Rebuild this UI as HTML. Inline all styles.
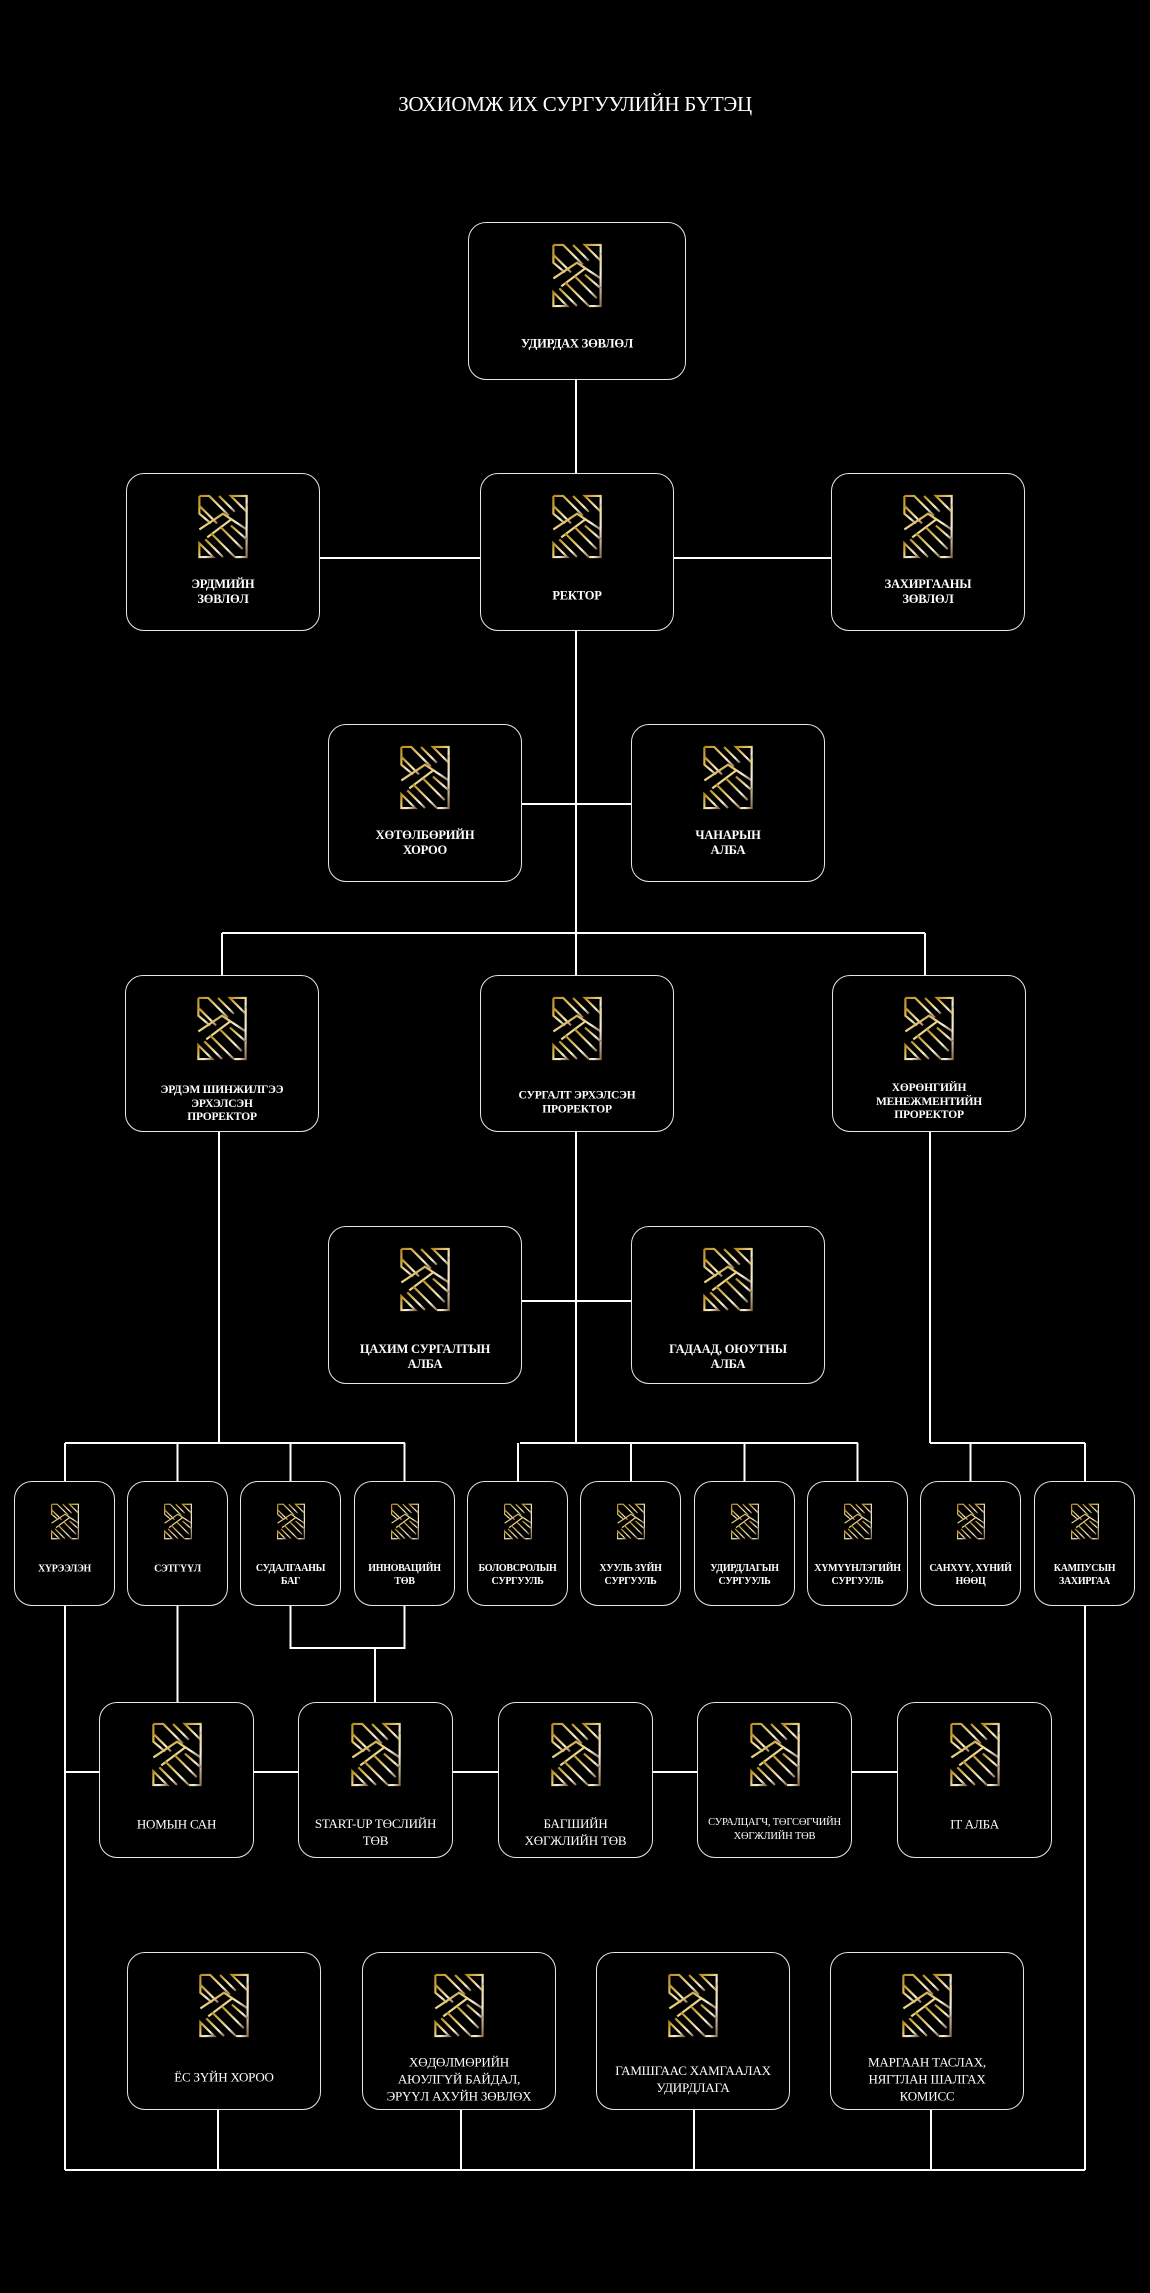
<!DOCTYPE html>
<html><head><meta charset="utf-8">
<style>
html,body{margin:0;padding:0;background:#000;}
body{width:1150px;height:2293px;position:relative;overflow:hidden;font-family:"Liberation Serif","Noto Serif CJK SC",serif;color:#fff;}
.t{position:absolute;left:0;width:1150px;text-align:center;top:92px;font-size:21px;letter-spacing:-0.3px;}
.b{position:absolute;border:1.3px solid #e6e6e6;border-radius:18px;box-sizing:border-box;background:#000;}
.b svg{position:absolute;left:50%;transform:translateX(-50%);}
.l{position:absolute;left:0;right:0;text-align:center;transform:translateY(-50%);font-weight:bold;font-size:12.5px;line-height:15px;letter-spacing:-0.2px;}
.s .l{font-size:10px;line-height:13px;letter-spacing:-0.3px;}
.m .l{font-size:13px;line-height:17px;font-weight:normal;}
</style></head><body>
<svg width="0" height="0" style="position:absolute">
<defs>
<linearGradient id="g" x1="0" y1="0" x2="1" y2="1">
<stop offset="0" stop-color="#b88c1e"/><stop offset="0.45" stop-color="#e8cf7a"/><stop offset="0.7" stop-color="#f6f0dc"/><stop offset="1" stop-color="#8c6e48"/>
</linearGradient>
<symbol id="ic" viewBox="0 0 52 66">
<g fill="none" stroke="url(#g)" stroke-width="2.2">
<path d="M2 2H12L32 22"/>
<path d="M2 2V20L14 30"/>
<path d="M2 12L20 30"/>
<path d="M22 2L38 18"/>
<path d="M34 2H50V18Z"/>
<path d="M2 36L26 20L50 36"/>
<path d="M2 36V42"/>
<path d="M50 12V64H38"/>
<path d="M10 44L34 26"/>
<path d="M14 40L38 64"/>
<path d="M24 34L46 56"/>
<path d="M34 32L50 46"/>
<path d="M2 50V64H16Z"/>
<path d="M26 64L8 46"/>
</g>
</symbol>
</defs>
</svg>

<div class="t">ЗОХИОМЖ ИХ СУРГУУЛИЙН БҮТЭЦ</div>

<svg style="position:absolute;left:0;top:0" width="1150" height="2293">
<g stroke="#fff" stroke-width="2" fill="none">
<path d="M576 380V975"/>
<path d="M320 558H831"/>
<path d="M522 804H631"/>
<path d="M222 933H925M222 933V975M925 933V975"/>
<path d="M219 1132V1443M576 1132V1443M930 1132V1443"/>
<path d="M522 1301H631"/>
<path d="M65 1443H405M520 1443H858M930 1443H1085"/>
<path d="M65 1443V2170M177.5 1443V1481M290.5 1443V1481M404.5 1443V1481M518 1443V1481M631 1443V1481M744.5 1443V1481M857.5 1443V1481M970.5 1443V1481M1085 1443V2170"/>
<path d="M177.5 1606V1702"/>
<path d="M290.5 1606V1648H404.5V1606M375 1648V1702"/>
<path d="M65 1772H897"/>
<path d="M65 2170H1085"/>
<path d="M218 2110V2170M461 2110V2170M694 2110V2170M931 2110V2170"/>
</g>
</svg>

<!-- top -->
<div class="b" style="left:468px;top:222px;width:218px;height:158px"><svg width="52" height="65" style="top:20px"><use href="#ic"/></svg><div class="l" style="top:121px">УДИРДАХ ЗӨВЛӨЛ</div></div>
<!-- row2 -->
<div class="b" style="left:126px;top:473px;width:194px;height:158px"><svg width="52" height="65" style="top:20px"><use href="#ic"/></svg><div class="l" style="top:118px">ЭРДМИЙН<br>ЗӨВЛӨЛ</div></div>
<div class="b" style="left:480px;top:473px;width:194px;height:158px"><svg width="52" height="65" style="top:20px"><use href="#ic"/></svg><div class="l" style="top:122px">РЕКТОР</div></div>
<div class="b" style="left:831px;top:473px;width:194px;height:158px"><svg width="52" height="65" style="top:20px"><use href="#ic"/></svg><div class="l" style="top:118px">ЗАХИРГААНЫ<br>ЗӨВЛӨЛ</div></div>
<!-- row3 -->
<div class="b" style="left:328px;top:724px;width:194px;height:158px"><svg width="52" height="65" style="top:20px"><use href="#ic"/></svg><div class="l" style="top:118px">ХӨТӨЛБӨРИЙН<br>ХОРОО</div></div>
<div class="b" style="left:631px;top:724px;width:194px;height:158px"><svg width="52" height="65" style="top:20px"><use href="#ic"/></svg><div class="l" style="top:118px">ЧАНАРЫН<br>АЛБА</div></div>
<!-- row4 -->
<div class="b" style="left:125px;top:975px;width:194px;height:157px"><svg width="52" height="65" style="top:20px"><use href="#ic"/></svg><div class="l" style="top:128px;font-size:11.5px;line-height:13.5px">ЭРДЭМ ШИНЖИЛГЭЭ<br>ЭРХЭЛСЭН<br>ПРОРЕКТОР</div></div>
<div class="b" style="left:480px;top:975px;width:194px;height:157px"><svg width="52" height="65" style="top:20px"><use href="#ic"/></svg><div class="l" style="top:127px;font-size:11.5px;line-height:13.5px">СУРГАЛТ ЭРХЭЛСЭН<br>ПРОРЕКТОР</div></div>
<div class="b" style="left:832px;top:975px;width:194px;height:157px"><svg width="52" height="65" style="top:20px"><use href="#ic"/></svg><div class="l" style="top:126px;font-size:11.5px;line-height:13.5px">ХӨРӨНГИЙН<br>МЕНЕЖМЕНТИЙН<br>ПРОРЕКТОР</div></div>
<!-- row5 -->
<div class="b" style="left:328px;top:1226px;width:194px;height:158px"><svg width="52" height="65" style="top:20px"><use href="#ic"/></svg><div class="l" style="top:130px">ЦАХИМ СУРГАЛТЫН<br>АЛБА</div></div>
<div class="b" style="left:631px;top:1226px;width:194px;height:158px"><svg width="52" height="65" style="top:20px"><use href="#ic"/></svg><div class="l" style="top:130px">ГАДААД, ОЮУТНЫ<br>АЛБА</div></div>
<!-- row6 small -->
<div class="b s" style="left:14px;top:1481px;width:101px;height:125px"><svg width="29" height="37" style="top:21px"><use href="#ic"/></svg><div class="l" style="top:87px">ХҮРЭЭЛЭН</div></div>
<div class="b s" style="left:127px;top:1481px;width:101px;height:125px"><svg width="29" height="37" style="top:21px"><use href="#ic"/></svg><div class="l" style="top:87px">СЭТГҮҮЛ</div></div>
<div class="b s" style="left:240px;top:1481px;width:101px;height:125px"><svg width="29" height="37" style="top:21px"><use href="#ic"/></svg><div class="l" style="top:93px">СУДАЛГААНЫ<br>БАГ</div></div>
<div class="b s" style="left:354px;top:1481px;width:101px;height:125px"><svg width="29" height="37" style="top:21px"><use href="#ic"/></svg><div class="l" style="top:93px">ИННОВАЦИЙН<br>ТӨВ</div></div>
<div class="b s" style="left:467px;top:1481px;width:101px;height:125px"><svg width="29" height="37" style="top:21px"><use href="#ic"/></svg><div class="l" style="top:93px">БОЛОВСРОЛЫН<br>СУРГУУЛЬ</div></div>
<div class="b s" style="left:580px;top:1481px;width:101px;height:125px"><svg width="29" height="37" style="top:21px"><use href="#ic"/></svg><div class="l" style="top:93px">ХУУЛЬ ЗҮЙН<br>СУРГУУЛЬ</div></div>
<div class="b s" style="left:694px;top:1481px;width:101px;height:125px"><svg width="29" height="37" style="top:21px"><use href="#ic"/></svg><div class="l" style="top:93px">УДИРДЛАГЫН<br>СУРГУУЛЬ</div></div>
<div class="b s" style="left:807px;top:1481px;width:101px;height:125px"><svg width="29" height="37" style="top:21px"><use href="#ic"/></svg><div class="l" style="top:93px">ХҮМҮҮНЛЭГИЙН<br>СУРГУУЛЬ</div></div>
<div class="b s" style="left:920px;top:1481px;width:101px;height:125px"><svg width="29" height="37" style="top:21px"><use href="#ic"/></svg><div class="l" style="top:93px">САНХҮҮ, ХҮНИЙ<br>НӨӨЦ</div></div>
<div class="b s" style="left:1034px;top:1481px;width:101px;height:125px"><svg width="29" height="37" style="top:21px"><use href="#ic"/></svg><div class="l" style="top:93px">КАМПУСЫН<br>ЗАХИРГАА</div></div>
<!-- row7 -->
<div class="b m" style="left:99px;top:1702px;width:155px;height:156px"><svg width="52" height="65" style="top:19px"><use href="#ic"/></svg><div class="l" style="top:121px">НОМЫН САН</div></div>
<div class="b m" style="left:298px;top:1702px;width:155px;height:156px"><svg width="52" height="65" style="top:19px"><use href="#ic"/></svg><div class="l" style="top:129px">START-UP ТӨСЛИЙН<br>ТӨВ</div></div>
<div class="b m" style="left:498px;top:1702px;width:155px;height:156px"><svg width="52" height="65" style="top:19px"><use href="#ic"/></svg><div class="l" style="top:129px">БАГШИЙН<br>ХӨГЖЛИЙН ТӨВ</div></div>
<div class="b m" style="left:697px;top:1702px;width:155px;height:156px"><svg width="52" height="65" style="top:19px"><use href="#ic"/></svg><div class="l" style="top:127px;font-size:10.5px;line-height:14px">СУРАЛЦАГЧ, ТӨГСӨГЧИЙН<br>ХӨГЖЛИЙН ТӨВ</div></div>
<div class="b m" style="left:897px;top:1702px;width:155px;height:156px"><svg width="52" height="65" style="top:19px"><use href="#ic"/></svg><div class="l" style="top:121px">IT АЛБА</div></div>
<!-- row8 -->
<div class="b m" style="left:127px;top:1952px;width:194px;height:158px"><svg width="52" height="65" style="top:20px"><use href="#ic"/></svg><div class="l" style="top:124px">ЁС ЗҮЙН ХОРОО</div></div>
<div class="b m" style="left:362px;top:1952px;width:194px;height:158px"><svg width="52" height="65" style="top:20px"><use href="#ic"/></svg><div class="l" style="top:126px">ХӨДӨЛМӨРИЙН<br>АЮУЛГҮЙ БАЙДАЛ,<br>ЭРҮҮЛ АХУЙН ЗӨВЛӨХ</div></div>
<div class="b m" style="left:596px;top:1952px;width:194px;height:158px"><svg width="52" height="65" style="top:20px"><use href="#ic"/></svg><div class="l" style="top:126px">ГАМШГААС ХАМГААЛАХ<br>УДИРДЛАГА</div></div>
<div class="b m" style="left:830px;top:1952px;width:194px;height:158px"><svg width="52" height="65" style="top:20px"><use href="#ic"/></svg><div class="l" style="top:126px">МАРГААН ТАСЛАХ,<br>НЯГТЛАН ШАЛГАХ<br>КОМИСС</div></div>
</body></html>
